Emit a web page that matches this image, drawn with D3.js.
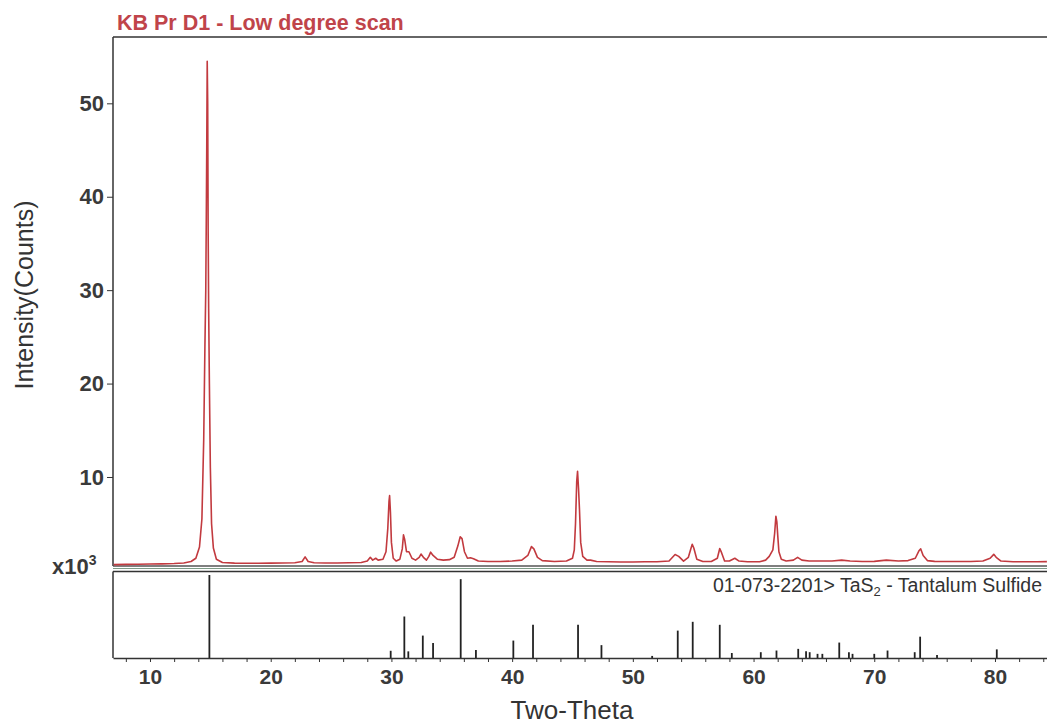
<!DOCTYPE html>
<html lang="en">
<head>
  <meta charset="UTF-8">
  <title>KB Pr D1 - Low degree scan</title>
  <script src="https://d3js.org/d3.v7.min.js"></script>
  <style>
    body { margin: 0; background: #fff; font-family: Arial, "Liberation Sans", sans-serif; }
    svg text { fill: #333; }
  </style>
</head>
<body>
  <div id="chart"></div>

  <script>
    // measured scan (2-theta in degrees, counts in thousands)
    const twoTheta = [7.0, 8.0, 9.0, 10.0, 11.0, 12.0, 12.8, 13.4, 13.8, 14.1, 14.3, 14.45, 14.55, 14.62, 14.66, 14.7, 14.74, 14.78, 14.82, 14.86, 14.92, 15.0, 15.1, 15.25, 15.5, 16.0, 17.0, 18.0, 19.0, 20.0, 21.0, 22.0, 22.6, 22.85, 23.1, 23.6, 24.5, 25.5, 26.5, 27.5, 28.0, 28.25, 28.45, 28.7, 28.9, 29.3, 29.55, 29.7, 29.8, 29.85, 29.92, 30.0, 30.15, 30.4, 30.7, 30.9, 31.0, 31.1, 31.25, 31.45, 31.7, 32.0, 32.3, 32.45, 32.65, 32.9, 33.1, 33.25, 33.45, 33.8, 34.3, 34.8, 35.2, 35.5, 35.7, 35.85, 36.05, 36.3, 36.55, 36.8, 37.2, 38.0, 39.0, 40.0, 40.8, 41.3, 41.6, 41.8, 42.1, 42.5, 43.5, 44.5, 45.0, 45.15, 45.25, 45.35, 45.42, 45.5, 45.58, 45.68, 45.85, 46.2, 46.5, 47.0, 48.0, 49.0, 50.0, 51.0, 52.0, 53.0, 53.5, 53.8, 54.2, 54.6, 54.8, 54.92, 55.05, 55.3, 55.8, 56.5, 57.0, 57.2, 57.35, 57.6, 58.0, 58.45, 58.8, 59.5, 60.5, 61.0, 61.3, 61.6, 61.75, 61.85, 61.93, 62.0, 62.1, 62.3, 62.7, 63.3, 63.65, 64.0, 64.6, 65.5, 66.5, 67.3, 68.0, 69.0, 70.0, 71.0, 72.0, 72.8, 73.4, 73.7, 73.85, 74.05, 74.4, 75.0, 76.0, 77.0, 78.0, 79.0, 79.6, 79.9, 80.1, 80.5, 81.5, 82.5, 83.5, 84.3];
    const counts = [0.62, 0.64, 0.66, 0.68, 0.70, 0.74, 0.80, 0.95, 1.3, 2.5, 5.5, 14, 24, 30, 37, 45, 54.5, 50, 36, 28, 20, 11, 5, 2.4, 1.2, 0.85, 0.78, 0.76, 0.76, 0.78, 0.80, 0.82, 0.95, 1.45, 0.95, 0.82, 0.8, 0.8, 0.82, 0.85, 1.0, 1.4, 1.1, 1.3, 1.1, 1.2, 2.0, 4.5, 7.4, 8.0, 6.2, 3.0, 1.3, 1.0, 1.2, 2.3, 3.8, 3.3, 2.0, 2.0, 1.3, 1.1, 1.4, 1.75, 1.4, 1.1, 1.5, 1.95, 1.6, 1.2, 1.1, 1.15, 1.4, 2.6, 3.6, 3.4, 2.0, 1.3, 1.35, 1.25, 1.0, 0.95, 0.95, 1.0, 1.1, 1.6, 2.55, 2.3, 1.4, 1.05, 0.95, 1.0, 1.3, 2.2, 5.0, 9.5, 10.6, 8.8, 6.5, 3.0, 1.5, 1.1, 1.1, 0.95, 0.92, 0.9, 0.9, 0.92, 0.92, 1.0, 1.7, 1.5, 1.0, 1.4, 2.3, 2.8, 2.4, 1.2, 0.95, 0.95, 1.3, 2.35, 1.9, 1.0, 1.0, 1.3, 1.0, 0.93, 0.93, 1.1, 1.5, 2.2, 4.0, 5.8, 5.2, 3.8, 2.0, 1.2, 1.0, 1.1, 1.4, 1.1, 1.0, 1.0, 1.0, 1.1, 1.0, 0.95, 0.97, 1.1, 1.0, 1.05, 1.3, 2.1, 2.3, 1.6, 1.05, 0.97, 0.95, 0.96, 0.95, 1.0, 1.3, 1.72, 1.4, 1.0, 0.92, 0.93, 0.93, 0.94];

    // reference pattern 01-073-2201 TaS2 (2-theta, relative intensity)
    const refTheta = [14.92, 29.94, 31.07, 31.4, 32.6, 33.45, 35.74, 37.0, 40.1, 41.73, 45.46, 47.4, 51.6, 53.72, 54.96, 57.2, 58.2, 60.6, 61.9, 63.7, 64.35, 64.65, 65.3, 65.7, 67.1, 67.9, 68.2, 70.0, 71.1, 73.35, 73.8, 75.2, 80.15];
    const refIntensity = [100, 8.7, 50, 8, 27, 18, 95, 9.5, 21, 40, 40, 15.5, 2.5, 33, 43.6, 40, 6, 7, 9, 11, 8, 7, 5, 5, 18.6, 7, 5, 5, 9, 7, 25.7, 3.5, 10.4];

    const yTicks = [10, 20, 30, 40, 50];
    const xMajorTicks = [10, 20, 30, 40, 50, 60, 70, 80];
    const xMinorTicks = [8, 12, 14, 16, 18, 22, 24, 26, 28, 32, 34, 36, 38, 42, 44, 46, 48, 52, 54, 56, 58, 62, 64, 66, 68, 72, 74, 76, 78, 82, 84];

    const W = 1047, H = 725;
    const plotLeft = 113, plotRight = 1047;
    const plotTop = 37, upperBottom = 566;
    const lowerTop = 571.5, lowerBottom = 658;

    const svg = d3.select("#chart").append("svg")
      .attr("width", W).attr("height", H);

    const x = d3.scaleLinear().domain([6.935, 84.31]).range([plotLeft, plotRight]);
    const y = d3.scaleLinear().domain([0, 57.1]).range([570.4, plotTop]);
    const yRef = d3.scaleLinear().domain([0, 100]).range([lowerBottom, 575]);

    // title
    svg.append("text")
      .attr("x", 117).attr("y", 30)
      .style("font-size", "21.5px")
      .style("font-weight", "bold")
      .style("fill", "#c0444a")
      .text("KB Pr D1 - Low degree scan");

    // upper panel frame
    svg.append("line").attr("x1", plotLeft).attr("x2", plotRight).attr("y1", plotTop).attr("y2", plotTop)
      .attr("stroke", "#333").attr("stroke-width", 1.5);
    svg.append("line").attr("x1", plotLeft).attr("x2", plotLeft).attr("y1", plotTop).attr("y2", upperBottom)
      .attr("stroke", "#333").attr("stroke-width", 1.5);
    svg.append("line").attr("x1", plotLeft).attr("x2", plotRight).attr("y1", upperBottom).attr("y2", upperBottom)
      .attr("stroke", "#555").attr("stroke-width", 1.5);
    svg.append("line").attr("x1", plotLeft).attr("x2", plotRight).attr("y1", upperBottom + 2.5).attr("y2", upperBottom + 2.5)
      .attr("stroke", "#7d9a86").attr("stroke-width", 1.2);

    // y axis
    const yAxis = svg.append("g")
      .attr("transform", `translate(${plotLeft},0)`)
      .call(d3.axisLeft(y).tickValues(yTicks).tickSize(6).tickPadding(3).tickSizeOuter(0));
    yAxis.select(".domain").remove();
    yAxis.selectAll(".tick line").attr("stroke", "#333");
    yAxis.selectAll(".tick text")
      .style("font-size", "22px")
      .style("font-weight", "bold")
      .style("font-family", "Arial, 'Liberation Sans', sans-serif")
      .style("fill", "#3a3a3a");

    // x10^3 label
    const mult = svg.append("text")
      .attr("x", 52).attr("y", 574)
      .style("font-size", "22px")
      .style("font-weight", "bold")
      .style("fill", "#3a3a3a");
    mult.append("tspan").text("x10");
    mult.append("tspan").attr("dy", -9).style("font-size", "14px").text("3");

    // y label
    svg.append("text")
      .attr("transform", `translate(33,295) rotate(-90)`)
      .attr("text-anchor", "middle")
      .style("font-size", "25px")
      .text("Intensity(Counts)");

    // scan trace
    const scan = twoTheta.map((t, i) => ({t, c: counts[i]}));
    svg.append("path")
      .datum(scan)
      .attr("fill", "none")
      .attr("stroke", "#c23a3f")
      .attr("stroke-width", 1.6)
      .attr("stroke-linejoin", "round")
      .attr("d", d3.line().x(d => x(d.t)).y(d => y(d.c)));

    // lower panel frame
    svg.append("line").attr("x1", plotLeft).attr("x2", plotRight).attr("y1", lowerTop).attr("y2", lowerTop)
      .attr("stroke", "#333").attr("stroke-width", 1.5);
    svg.append("line").attr("x1", plotLeft).attr("x2", plotLeft).attr("y1", lowerTop).attr("y2", lowerBottom)
      .attr("stroke", "#333").attr("stroke-width", 1.5);

    // reference sticks
    const ref = refTheta.map((t, i) => ({t, r: refIntensity[i]}));
    svg.selectAll(".stick")
      .data(ref)
      .enter()
      .append("line")
      .attr("class", "stick")
      .attr("x1", d => x(d.t)).attr("x2", d => x(d.t))
      .attr("y1", yRef(0)).attr("y2", d => yRef(d.r))
      .attr("stroke", "#222")
      .attr("stroke-width", 1.8);

    // reference label
    const refLabel = svg.append("text")
      .attr("x", 1042).attr("y", 592)
      .attr("text-anchor", "end")
      .style("font-size", "19.5px");
    refLabel.append("tspan").text("01-073-2201> TaS");
    refLabel.append("tspan").attr("dy", 4).style("font-size", "13px").text("2");
    refLabel.append("tspan").attr("dy", -4).text(" - Tantalum Sulfide");

    // x axis: ticks every 2 degrees, labels every 10
    const xMinor = svg.append("g")
      .attr("transform", `translate(0,${lowerBottom})`)
      .call(d3.axisBottom(x).tickValues(xMinorTicks).tickSize(4).tickFormat("").tickSizeOuter(0));
    xMinor.select(".domain").attr("stroke", "#333").attr("stroke-width", 1.5);
    xMinor.selectAll(".tick line").attr("stroke", "#333");

    const xMajor = svg.append("g")
      .attr("transform", `translate(0,${lowerBottom})`)
      .call(d3.axisBottom(x).tickValues(xMajorTicks).tickSize(4).tickPadding(7).tickSizeOuter(0));
    xMajor.select(".domain").remove();
    xMajor.selectAll(".tick line").attr("stroke", "#333");
    xMajor.selectAll(".tick text")
      .style("font-size", "21px")
      .style("font-weight", "bold")
      .style("font-family", "Arial, 'Liberation Sans', sans-serif")
      .style("fill", "#3a3a3a");

    // x label
    svg.append("text")
      .attr("x", 572).attr("y", 719)
      .attr("text-anchor", "middle")
      .style("font-size", "26px")
      .text("Two-Theta");
  </script>
</body>
</html>
